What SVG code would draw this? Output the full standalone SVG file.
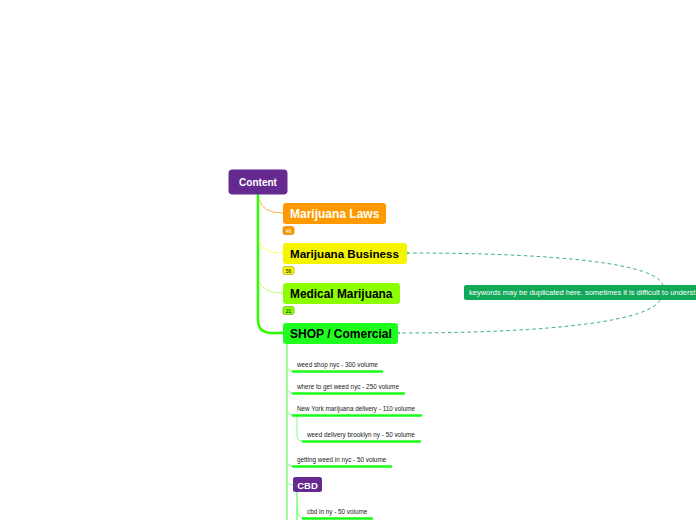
<svg xmlns="http://www.w3.org/2000/svg" width="696" height="520" viewBox="0 0 696 520">
<defs>
<style>
.big{font-family:"Liberation Sans",Arial,sans-serif;font-weight:bold;font-size:12px}
.sm{font-family:"Liberation Sans",Arial,sans-serif;font-size:6.35px;fill:#222}
.badge{font-family:"Liberation Sans",Arial,sans-serif;font-size:5px;text-anchor:middle}
.ul{stroke:#19ff19;stroke-width:2.5;stroke-linecap:round;fill:none}
.thin{stroke:#7dff7d;stroke-width:1;fill:none}
.rel{stroke:#3cb371;stroke-width:1;stroke-dasharray:3.5 3;fill:none}
</style>
<marker id="arr" viewBox="0 0 6 6" refX="1" refY="3" markerWidth="6" markerHeight="6" orient="auto">
<path d="M5 0.8 L1 3 L5 5.2" fill="none" stroke="#3cb371" stroke-width="1"/>
</marker>
</defs>
<rect width="696" height="520" fill="#fff"/>
<g id="connectors">
<path d="M258 194 V320 Q258 333 272 333 H284" stroke="#2bff00" stroke-width="2.5" fill="none"/>
<path d="M259 199 Q262 213 283 213" stroke="#ffb347" stroke-width="1" fill="none"/>
<path d="M259 241 Q262 253 283 253" stroke="#ffff66" stroke-width="1" fill="none"/>
<path d="M259 281 Q262 293 283 293" stroke="#b8ff66" stroke-width="1" fill="none"/>
<path d="M287 344 V520" stroke="#33ff33" stroke-width="1" fill="none"/>
<path class="thin" d="M287 366 Q288 371 293 371"/>
<path class="thin" d="M287 388 Q288 393 293 393"/>
<path class="thin" d="M287 410 Q288 415 293 415"/>
<path class="thin" d="M287 461 Q288 466 293 466"/>
<path class="thin" d="M287 480 Q288 485 293 485"/>
<path class="thin" d="M297 416 V436 Q297 441 303 441"/>
<path d="M297 492 V520" stroke="#33ff33" stroke-width="1" fill="none"/>
<path class="thin" d="M297 508 Q298 518 303 518"/>
<path class="rel" d="M663 286 C660 264 560 253 409 253" marker-end="url(#arr)"/>
<path class="rel" d="M660 300 C650 320 560 333 400 333" marker-end="url(#arr)"/>
</g>
<g id="content">
<rect x="228.5" y="169.5" width="59" height="25" rx="4" fill="#66298f"/>
<text x="258" y="185.5" class="big" fill="#fff" text-anchor="middle" style="font-size:10px">Content</text>
</g>
<g id="laws">
<rect x="283" y="203" width="103" height="21" rx="3" fill="#ff9900"/>
<text x="290" y="218" class="big" fill="#fff">Marijuana Laws</text>
<rect x="283" y="226.5" width="11" height="8" rx="2" fill="#ff9900" stroke="#c87800" stroke-width="0.6"/>
<text x="288.5" y="232.5" class="badge" fill="#fff">46</text>
</g>
<g id="business">
<rect x="283" y="243" width="124" height="21" rx="3" fill="#f5f500"/>
<text x="290" y="258" class="big" fill="#000" style="font-size:11.6px">Marijuana Business</text>
<rect x="283" y="266.5" width="11" height="8" rx="2" fill="#f5f500" stroke="#a0a000" stroke-width="0.6"/>
<text x="288.5" y="272.5" class="badge" fill="#000">56</text>
</g>
<g id="medical">
<rect x="283" y="283" width="117" height="21" rx="3" fill="#8cff00"/>
<text x="290" y="298" class="big" fill="#000" style="font-size:11.9px">Medical Marijuana</text>
<rect x="283" y="306.5" width="11" height="8" rx="2" fill="#8cff00" stroke="#5aa000" stroke-width="0.6"/>
<text x="288.5" y="312.5" class="badge" fill="#000">21</text>
</g>
<g id="shop">
<rect x="283" y="323" width="115" height="21" rx="3" fill="#1eff1e"/>
<text x="290" y="338" class="big" fill="#000">SHOP / Comercial</text>
</g>
<g id="k1"><text x="297" y="367" class="sm">weed shop nyc - 300 volume</text><path class="ul" d="M293 371.5 H382"/></g>
<g id="k2"><text x="297" y="389" class="sm">where to get weed nyc - 250 volume</text><path class="ul" d="M293 393.5 H404"/></g>
<g id="k3"><text x="297" y="411" class="sm">New York marijuana delivery - 110 volume</text><path class="ul" d="M293 415.5 H421"/></g>
<g id="k4"><text x="307" y="436.5" class="sm">weed delivery brooklyn ny - 50 volume</text><path class="ul" d="M303 441.5 H420"/></g>
<g id="k5"><text x="297" y="462" class="sm">getting weed in nyc - 50 volume</text><path class="ul" d="M293 466.5 H391"/></g>
<g id="cbd">
<rect x="293" y="477" width="29" height="15" rx="2.5" fill="#66298f"/>
<text x="307.5" y="488.5" class="big" fill="#fff" text-anchor="middle" style="font-size:9.5px">CBD</text>
</g>
<g id="k6"><text x="307" y="513.5" class="sm">cbd in ny - 50 volume</text><path class="ul" d="M303 518.5 H372"/></g>
<g id="note">
<rect x="464" y="285" width="240" height="15" rx="2" fill="#0fa958"/>
<text x="469" y="295.3" font-family="Liberation Sans, Arial, sans-serif" font-size="7.5" fill="#fff">keywords may be duplicated here. sometimes it is difficult to underst</text>
</g>
</svg>
